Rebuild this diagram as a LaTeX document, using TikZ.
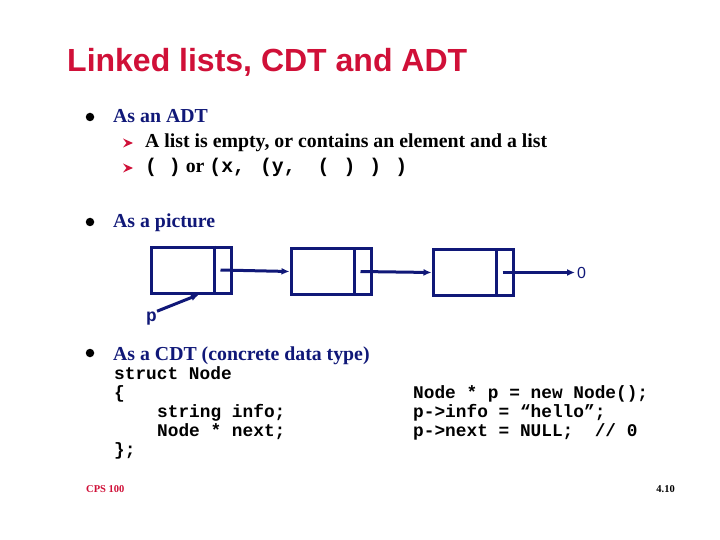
\documentclass[tikz,border=0pt]{standalone}
\usepackage{fontspec}
\setmainfont{Liberation Serif}
\setsansfont{Liberation Sans}
\setmonofont{Liberation Mono}
\usetikzlibrary{positioning,arrows.meta}
\definecolor{titlered}{RGB}{208,16,56}
\definecolor{listnavy}{RGB}{16,24,120}
\newcommand{\codefont}{\fontsize{17.8}{19}\selectfont\ttfamily\bfseries}
\newcommand{\bodyfont}{\fontsize{19.8}{23}\selectfont\rmfamily\bfseries}
\tikzset{
	every node/.style={inner sep=0pt,anchor=base west},
	headtext/.style={font=\fontsize{32}{38}\selectfont\sffamily\bfseries,text=titlered},
	toptext/.style={font=\bodyfont,text=listnavy},
	subtext/.style={font=\bodyfont,text=black},
	codetext/.style={font=\codefont,text=black},
	footer/.style={font=\fontsize{10.5}{12}\selectfont\rmfamily\bfseries},
	dot/.style={circle,fill=black,minimum size=8.5pt,anchor=center},
	cell/.style={rectangle,draw=listnavy,line width=3pt,minimum width=80pt,minimum height=46pt,anchor=center},
	link/.style={draw=listnavy,line width=3pt,-{Latex[length=8pt,width=7pt]}}
}
\newcommand{\subarrow}[1]{\fill[titlered] (#1) ++(-5,-4.5) -- ++(10,4.5) -- ++(-10,4.5) -- ++(3.5,-4.5) -- cycle;}
\begin{document}
\begin{tikzpicture}[x=1pt,y=-1pt]
	\useasboundingbox[fill=white] (0,0) rectangle (720,540);
	\node[headtext] (title) at (67,72) {Linked lists, CDT and ADT};
	% bullets
	\node[dot] (b1) at (90,117) {};
	\node[dot] (b2) at (90,222) {};
	\node[dot] (b3) at (90,353) {};
	\node[toptext] (adt) at (113,123) {As an ADT};
	\node[toptext] (pic) at (113,228) {As a picture};
	\node[toptext] (cdt) at (113,360) {As a CDT (concrete data type)};
	% sub bullets
	\subarrow{128,143}
	\subarrow{128,168}
	\node[subtext] (empty) at (145,148) {A list is empty, or contains an element and a list};
	\node[subtext] (nested) at (145,173) {\texttt{( )} or \texttt{(x,}\hspace{15pt}\texttt{(y,}\hspace{22pt}\texttt{(}\hspace{14pt}\texttt{)}\hspace{14pt}\texttt{)}\hspace{14pt}\texttt{)}};
	% the picture
	\foreach \i/\x/\y in {1/191/270,2/331/271.5,3/473/272.5}{
		\node[cell] (n\i) at (\x,\y) {};
		\draw[listnavy,line width=3pt] ([xshift=-18pt]n\i.north east) -- ([xshift=-18pt]n\i.south east);
		\coordinate (s\i) at ([xshift=-12pt]n\i.east);
	}
	\draw[link] (s1) -- (n2.west);
	\draw[link] (s2) -- (n3.west);
	\coordinate (end) at (575,272.5);
	\draw[link] (s3) -- (end);
	\node[font=\fontsize{16}{18}\selectfont\sffamily,text=listnavy,anchor=west] (zero) at (577,272.5) {0};
	\node[codetext,text=listnavy] (p) at (146,321) {p};
	\draw[link] (p.north east) -- ([xshift=8pt]n1.south);
	% code
	\node[codetext] (c1) at (114,379) {struct Node};
	\node[codetext] (c2) at (114,398) {\{};
	\node[codetext] (c3) at (157,417) {string info;};
	\node[codetext] (c4) at (157,436) {Node * next;};
	\node[codetext] (c5) at (114,455) {\};};
	\node[codetext] (r1) at (413,398) {Node * p = new Node();};
	\node[codetext] (r2) at (413,417) {p->info = “hello”;};
	\node[codetext] (r3) at (413,436) {p->next = NULL;\ \ // 0};
	% footer
	\node[footer,text=titlered] (course) at (86,492) {CPS 100};
	\node[footer,anchor=base east] (page) at (675,492) {4.10};
\end{tikzpicture}
\end{document}
